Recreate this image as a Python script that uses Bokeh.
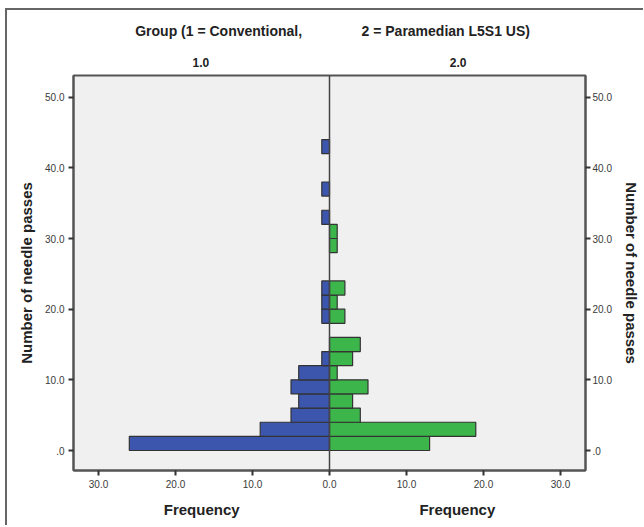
from bokeh.plotting import figure
from bokeh.models import Range1d, FixedTicker, LinearAxis, Span, ColumnDataSource
from bokeh.embed import file_html
from bokeh.resources import INLINE

# ---- data ----
bin_lower = [0, 2, 4, 6, 8, 10, 12, 14, 16, 18, 20, 22, 24, 26, 28, 30, 32, 34, 36, 38, 40, 42]
bin_width = 2
freq_conventional = [26, 9, 5, 4, 5, 4, 1, 0, 0, 1, 1, 1, 0, 0, 0, 0, 1, 0, 1, 0, 0, 1]
freq_paramedian = [13, 19, 4, 3, 5, 1, 3, 4, 0, 2, 1, 2, 0, 0, 1, 1, 0, 0, 0, 0, 0, 0]
group_labels = ["1.0", "2.0"]
title_parts = ["Group (1 = Conventional,", "2 = Paramedian L5S1 US)"]
x_title = "Frequency"
y_title = "Number of needle passes"
x_ticks = [-30, -20, -10, 0, 10, 20, 30]
x_tick_labels = ["30.0", "20.0", "10.0", "0.0", "10.0", "20.0", "30.0"]
y_ticks = [0, 10, 20, 30, 40, 50]
y_tick_labels = [".0", "10.0", "20.0", "30.0", "40.0", "50.0"]

BLUE = "#3d56ad"
GREEN = "#3cb64a"
EDGE = "#333333"
FONT = "Liberation Sans"

p = figure(frame_width=512, frame_height=395,
           x_range=Range1d(-33.25, 33.25), y_range=Range1d(-2.83, 53.07),
           output_backend="svg", toolbar_location=None,
           min_border_left=66, min_border_right=58, min_border_top=65, min_border_bottom=55,
           background_fill_color="#f0f0f0", border_fill_color="white",
           outline_line_color="#555555", outline_line_width=2)
p.styles = {"border-left": "2px solid #666666", "border-top": "2px solid #666666",
            "margin-left": "5px", "margin-top": "8px"}
p.grid.visible = False

centers = [b + bin_width / 2 for b in bin_lower]
src_l = ColumnDataSource(dict(
    y=[c for c, f in zip(centers, freq_conventional) if f > 0],
    left=[-f for f in freq_conventional if f > 0]))
src_r = ColumnDataSource(dict(
    y=[c for c, f in zip(centers, freq_paramedian) if f > 0],
    right=[f for f in freq_paramedian if f > 0]))

p.hbar(y="y", left="left", right=0, height=bin_width, source=src_l,
       fill_color=BLUE, line_color=EDGE, line_width=1.2)
p.hbar(y="y", left=0, right="right", height=bin_width, source=src_r,
       fill_color=GREEN, line_color=EDGE, line_width=1.2)

p.add_layout(Span(location=0, dimension="height", line_color="#444444", line_width=1.5))


def style_axis(ax, standoff=4):
    ax.major_tick_out = 5
    ax.major_tick_in = 0
    ax.minor_tick_line_color = None
    ax.axis_line_color = "#555555"
    ax.axis_line_width = 2
    ax.major_tick_line_color = "#333333"
    ax.major_tick_line_width = 2
    ax.major_label_text_font = FONT
    ax.major_label_text_font_size = "10px"
    ax.major_label_text_color = "#3a3a3a"
    ax.major_label_standoff = standoff
    ax.axis_label_text_font = FONT
    ax.axis_label_text_font_style = "bold"
    ax.axis_label_text_font_size = "15px"
    ax.axis_label_text_color = "#222222"


def text_axis(ticks, labels, size, standoff):
    ax = LinearAxis(ticker=FixedTicker(ticks=ticks),
                    major_label_overrides={t: l for t, l in zip(ticks, labels)})
    ax.axis_line_color = None
    ax.major_tick_line_color = None
    ax.minor_tick_line_color = None
    ax.major_tick_out = 0
    ax.major_tick_in = 0
    ax.major_label_standoff = standoff
    ax.major_label_text_font = FONT
    ax.major_label_text_font_style = "bold"
    ax.major_label_text_font_size = size
    ax.major_label_text_color = "#222222"
    return ax


style_axis(p.xaxis[0])
p.xaxis[0].ticker = FixedTicker(ticks=x_ticks)
p.xaxis[0].major_label_overrides = {t: l for t, l in zip(x_ticks, x_tick_labels)}

style_axis(p.yaxis[0])
p.yaxis[0].ticker = FixedTicker(ticks=y_ticks)
p.yaxis[0].major_label_overrides = {t: l for t, l in zip(y_ticks, y_tick_labels)}
p.yaxis[0].axis_label = y_title
p.yaxis[0].axis_label_standoff = 7

ry = LinearAxis(ticker=FixedTicker(ticks=y_ticks),
                major_label_overrides={t: l for t, l in zip(y_ticks, y_tick_labels)})
style_axis(ry, standoff=2)
ry.axis_label = y_title
ry.axis_label_standoff = 8
p.add_layout(ry, "right")

# group labels and split title above, "Frequency" under each half
p.add_layout(text_axis([-16.7, 16.7], group_labels, "12px", 9), "above")
p.add_layout(text_axis([-14.4, 15.1], title_parts, "14px", 16), "above")
p.add_layout(text_axis([-16.6, 16.6], [x_title, x_title], "15px", 10), "below")

open("out.html", "w").write(file_html(p, INLINE))
